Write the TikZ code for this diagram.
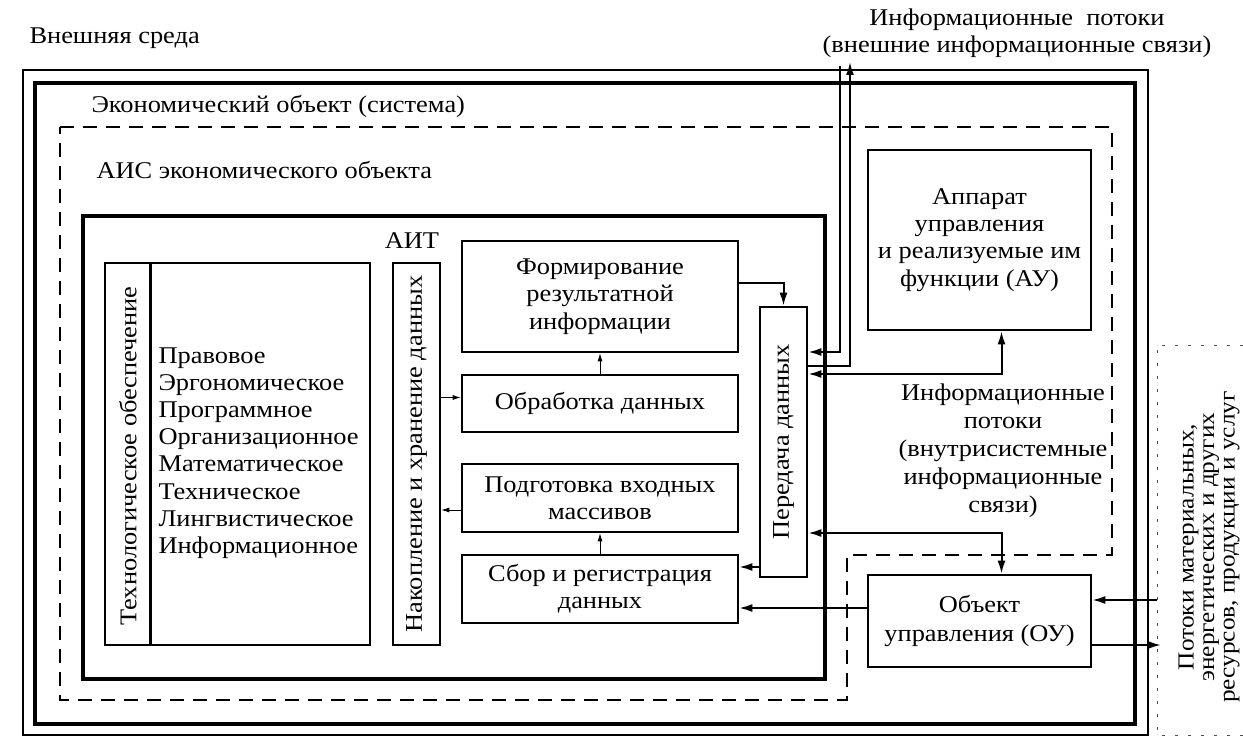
\documentclass[tikz,border=0pt]{standalone}
\usepackage{fontspec}
\setmainfont{Liberation Serif}[FakeStretch=1.1]
\usetikzlibrary{arrows.meta,calc}
\tikzset{
  frame/.style={draw=black, line width=1.2pt},
  thickframe/.style={draw=black, line width=4pt},
  aisframe/.style={draw=black, line width=1.6pt, dash pattern=on 14pt off 9pt},
  matframe/.style={draw=black!70, line width=0.8pt, dash pattern=on 3pt off 10pt},
  box/.style={draw=black, line width=2.6pt, inner sep=0pt, align=center},
  lab/.style={align=center},
  arr/.style={-{Latex[length=13pt,width=8pt]}, line width=2pt},
  dblarr/.style={{Latex[length=13pt,width=8pt]}-{Latex[length=13pt,width=8pt]}, line width=2pt},
  thinarr/.style={-{Latex[length=8pt,width=5pt]}, line width=0.8pt}
}

\begin{document}
\begin{tikzpicture}[x=1pt, y=-1pt, font=\fontsize{24}{27.2}\selectfont]
  \useasboundingbox (0,0) rectangle (1243,738);

  % frames
  \draw[frame] (23,70) rectangle (1148,735);
  \draw[thickframe] (35,83) rectangle (1135,724);
  \draw[aisframe] (60,127) -- (1112,127) -- (1112,555) -- (847,555) -- (847,700) -- (60,700) -- cycle;
  \draw[thickframe] (83,216) rectangle (825,679);
  \draw[matframe] (1243,345) -- (1157,345) -- (1157,735) -- (1243,735);

  \node[anchor=west] (envlab) at (26,38) {Внешняя среда};
  \node[anchor=west] (ecolab) at (88,106) {Экономический объект (система)};
  \node[anchor=west] (aislab) at (93,170) {АИС экономического объекта};
  \node (aitlab) at (412,241) {АИТ};

  % left part
  \node[box, minimum width=265pt, minimum height=382pt] (tech) at (237.5,454) {};
  \draw[line width=2.6pt] ($(tech.north west)+(47,0)$) -- ($(tech.south west)+(47,0)$);
  \node[rotate=90] (techlab) at (128,456) {Технологическое обеспечение};
  \node[anchor=west, align=left] (techlist) at (155,453) {Правовое\\Эргономическое\\Программное\\Организационное\\Математическое\\Техническое\\Лингвистическое\\Информационное};

  \node[box, minimum width=47pt, minimum height=382pt] (store) at (416.5,454) {};
  \node[rotate=90] (storelab) at (store) {Накопление и хранение данных};

  % stages
  \node[box, minimum width=276pt, minimum height=111pt] (form) at (600,296.5) {Формирование\\результатной\\информации};
  \node[box, minimum width=276pt, minimum height=57pt] (proc) at (600,403.5) {Обработка данных};
  \node[box, minimum width=276pt, minimum height=68pt] (prep) at (600,498) {Подготовка входных\\массивов};
  \node[box, minimum width=276pt, minimum height=68pt] (coll) at (600,589) {Сбор и регистрация\\данных};

  \node[box, minimum width=47pt, minimum height=270pt] (trans) at (783.5,442) {};
  \node[rotate=90] (translab) at (trans) {Передача данных};

  % right part
  \node[box, minimum width=223pt, minimum height=180pt] (au) at (979.5,240) {Аппарат\\управления\\и реализуемые им\\функции (АУ)};
  \node[box, minimum width=223pt, minimum height=92pt, font=\fontsize{24}{29}\selectfont] (ou) at (979.5,621) {Объект\\управления (ОУ)};

  \node[lab, font=\fontsize{24}{28}\selectfont] (intlab) at (1003,451) {Информационные\\потоки\\(внутрисистемные\\информационные\\связи)};
  \node[lab] (extlab) at (1017,33) {Информационные~~потоки\\(внешние информационные связи)};
  \node[lab, rotate=90, font=\fontsize{23}{20.5}\selectfont] (matlab) at (1209,547) {Потоки материальных,\\энергетических и других\\ресурсов, продукции и услуг};

  % flows inside AIT
  \draw[thinarr] (proc.north) -- (form.south);
  \draw[thinarr] (coll.north) -- (prep.south);
  \draw[thinarr] (store.east |- proc.west) ++(0,-6) -- ([yshift=6pt]proc.west);
  \draw[thinarr] ([yshift=-12pt]prep.west) -- (store.east |- 0,510);
  \draw[arr] ([yshift=13pt]form.east) -| (trans.north);

  \coordinate (c1) at ([yshift=22pt]coll.east);
  \draw[arr] (trans.west |- c1) -- (c1);
  \coordinate (c2) at ([yshift=13pt]ou.west);
  \draw[arr] (c2) -- (coll.east |- c2);

  \draw[dblarr] ([yshift=68pt]trans.east) -| ([xshift=22pt]au.south);
  \draw[dblarr] ([yshift=-91pt]trans.east) -| ([xshift=22pt]ou.north);

  % external flows
  \coordinate (extin) at (840,66);
  \coordinate (extout) at (850,62);
  \draw[arr] (extin) |- ([yshift=90pt]trans.east);
  \draw[arr] ([yshift=76pt]trans.east) -| (extout);

  \coordinate (matin) at (1157,600);
  \coordinate (matout) at (1161,645);
  \draw[arr] (matin) -- (ou.east |- matin);
  \draw[arr] (ou.east |- matout) -- (matout);
\end{tikzpicture}
\end{document}
